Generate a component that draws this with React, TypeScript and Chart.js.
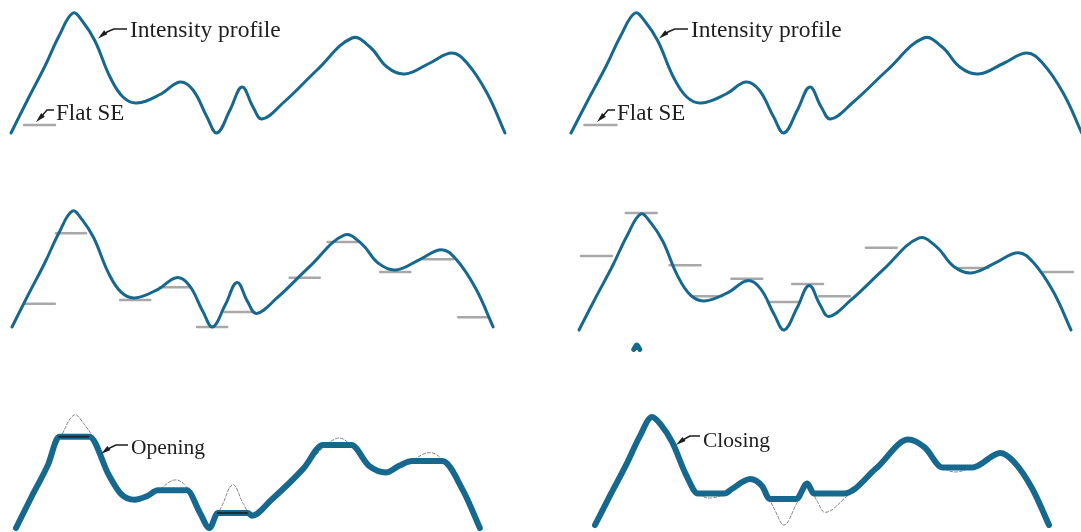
import React, { useEffect, useRef } from "react";
import { Chart, registerables } from "chart.js";
Chart.register(...registerables);

// Intensity profile (position u, intensity v)
const profileU = [0, 17, 34, 48, 62, 72, 84, 99, 112, 126, 150, 169, 182, 196, 206, 219, 231, 242, 251, 272, 306, 341, 359, 376, 394, 419, 441, 456, 476, 494];
const profileV = [0, 34, 67, 97, 120, 111, 92, 56, 36, 30, 39, 51, 43, 16, 0, 23, 46, 26, 14, 30, 63, 95, 86, 66, 59, 70, 80, 70, 40, 0];

// Opening result
const openingU = [0, 17, 34, 46, 78, 99, 112, 126, 140, 151, 182, 196, 206, 215, 247, 251, 272, 306, 327, 357, 376, 394, 408, 422, 454, 476, 494];
const openingV = [0, 34, 67, 97, 97, 56, 36, 30, 34, 40, 40, 16, 0, 16, 16, 13, 30, 63, 88, 88, 66, 59, 66, 71, 71, 40, 0];

// Closing result
const closingU = [0, 17, 34, 48, 62, 72, 84, 99, 112, 141, 149, 169, 182, 190, 219, 231, 238, 271, 306, 341, 359, 378, 411, 441, 456, 476, 494];
const closingV = [0, 34, 67, 97, 120, 111, 92, 56, 35, 35, 40, 51, 43, 29, 29, 46, 35, 35, 63, 95, 86, 64, 64, 80, 70, 40, 0];

// Structuring element positions
const SE_LEN = 31;
const flatSEStart = [13];
const flatSEV = [8];
const openSEStart = [13, 45, 111, 152, 190, 218, 285, 324, 378, 422, 458];
const openSEV = [24, 97, 28, 41, 0, 15.5, 51, 88, 57, 70, 10];
const closeSEStart = [2, 47, 91, 113, 153, 190, 214, 241, 288, 380, 465];
const closeSEV = [76.5, 121, 67, 35, 53, 29, 47.6, 35, 85, 64, 60];
const darkSEStart = [46, 215];
const darkSEV = [97, 16];
const fragmentU = [55, 58, 61];
const fragmentV = [-20, -15.5, -20];

const W = 1081;
const H = 532;
const BLUE = "#17688e";
const GRAY = "#a8a8a8";
const DASH = "#808080";

const panels = [
  { id: "1", x0: 11, sx: 1.0, yb: 133, sy: 1.0 },
  { id: "2", x0: 571, sx: 1.034, yb: 133, sy: 1.0 },
  { id: "3", x0: 12, sx: 0.974, yb: 327, sy: 0.967 },
  { id: "4", x0: 579, sx: 0.996, yb: 330, sy: 0.967 },
  { id: "5", x0: 16, sx: 0.939, yb: 528, sy: 0.942 },
  { id: "6", x0: 595, sx: 0.919, yb: 525, sy: 0.9 },
];

const pts = (us: number[], vs: number[]) => us.map((u, i) => ({ x: u, y: vs[i] }));
const segs = (starts: number[], vs: number[], len: number) =>
  starts.flatMap((s, i) => [
    { x: s, y: vs[i] },
    { x: s + len, y: vs[i] },
    { x: s + len, y: null as any },
  ]);

function ds(panel: string, data: any[], color: string, width: number, order: number, extra: any = {}) {
  return {
    data,
    xAxisID: "x" + panel,
    yAxisID: "y" + panel,
    showLine: true,
    pointRadius: 0,
    pointHoverRadius: 0,
    borderColor: color,
    backgroundColor: color,
    borderWidth: width,
    fill: false,
    order,
    spanGaps: false,
    borderCapStyle: "round",
    borderJoinStyle: "round",
    ...extra,
  };
}

type Ann = { text: string; tx: number; ty: number; size: number; path: [number, number][]; tip: [number, number] };
const annotations: Ann[] = [
  { text: "Intensity profile", tx: 130, ty: 37, size: 23.5, path: [[127, 29], [114, 29], [106, 32]], tip: [98, 38.5] },
  { text: "Intensity profile", tx: 691, ty: 37, size: 23.5, path: [[688, 29], [675, 29], [667, 32]], tip: [659, 38.5] },
  { text: "Flat SE", tx: 56, ty: 120, size: 23, path: [[54, 110], [47, 110], [43, 115]], tip: [36, 122] },
  { text: "Flat SE", tx: 617, ty: 120, size: 23, path: [[615, 110], [608, 110], [604, 115]], tip: [597, 122] },
  { text: "Opening", tx: 131, ty: 454, size: 21.5, path: [[128, 445], [116, 445], [109, 448]], tip: [101, 454] },
  { text: "Closing", tx: 703, ty: 447, size: 21.5, path: [[700, 436], [690, 436], [684, 439]], tip: [676, 445] },
];

const annotationPlugin = {
  id: "annots",
  afterDraw(chart: any) {
    const ctx = chart.ctx as CanvasRenderingContext2D;
    ctx.save();
    for (const a of annotations) {
      ctx.fillStyle = "#1e1e1e";
      ctx.font = `${a.size}px "Liberation Serif", "Times New Roman", serif`;
      ctx.textBaseline = "alphabetic";
      ctx.fillText(a.text, a.tx, a.ty);
      // arrow shaft
      ctx.strokeStyle = "#1e1e1e";
      ctx.lineWidth = 1.4;
      ctx.beginPath();
      ctx.moveTo(a.path[0][0], a.path[0][1]);
      ctx.lineTo(a.path[1][0], a.path[1][1]);
      ctx.quadraticCurveTo(a.path[2][0], a.path[2][1], (a.path[2][0] + a.tip[0]) / 2, (a.path[2][1] + a.tip[1]) / 2);
      ctx.stroke();
      // arrow head
      const dx = a.tip[0] - a.path[2][0];
      const dy = a.tip[1] - a.path[2][1];
      const len = Math.hypot(dx, dy);
      const ux = dx / len, uy = dy / len;
      const hl = 10, hw = 2.6;
      const bx = a.tip[0] - ux * hl, by = a.tip[1] - uy * hl;
      ctx.beginPath();
      ctx.moveTo(a.tip[0], a.tip[1]);
      ctx.lineTo(bx - uy * hw, by + ux * hw);
      ctx.lineTo(bx + uy * hw, by - ux * hw);
      ctx.closePath();
      ctx.fill();
    }
    ctx.restore();
  },
};

export default function App() {
  const ref = useRef<HTMLCanvasElement>(null);
  useEffect(() => {
    if (!ref.current) return;
    const scales: any = {};
    for (const p of panels) {
      scales["x" + p.id] = { type: "linear", display: false, bounds: "data", min: -p.x0 / p.sx, max: (W - p.x0) / p.sx };
      scales["y" + p.id] = { type: "linear", display: false, bounds: "data", min: (p.yb - H) / p.sy, max: p.yb / p.sy };
    }
    const mono = { cubicInterpolationMode: "monotone" };
    const smooth = { tension: 0.4 };
    const datasets: any[] = [
      // top row
      ds("1", pts(profileU, profileV), BLUE, 3, 1, smooth),
      ds("1", segs(flatSEStart, flatSEV, SE_LEN), GRAY, 2.5, 2),
      ds("2", pts(profileU, profileV), BLUE, 3, 1, smooth),
      ds("2", segs(flatSEStart, flatSEV, SE_LEN), GRAY, 2.5, 2),
      // middle row
      ds("3", pts(profileU, profileV), BLUE, 3, 1, smooth),
      ds("3", segs(openSEStart, openSEV, SE_LEN), GRAY, 2.5, 2),
      ds("4", pts(profileU, profileV), BLUE, 3, 1, smooth),
      ds("4", segs(closeSEStart, closeSEV, SE_LEN), GRAY, 2.5, 2),
      ds("4", pts(fragmentU, fragmentV), BLUE, 5, 1, mono),
      // bottom row
      ds("5", segs(darkSEStart, darkSEV, SE_LEN), "#1b2b38", 2, 0),
      ds("5", pts(openingU, openingV), BLUE, 6, 1, mono),
      ds("5", pts(profileU, profileV), DASH, 1, 3, { ...smooth, borderDash: [3, 2] }),
      ds("6", pts(closingU, closingV), BLUE, 6, 1, mono),
      ds("6", pts(profileU, profileV), DASH, 1, 3, { ...smooth, borderDash: [3, 2] }),
    ];
    const chart = new Chart(ref.current, {
      type: "scatter",
      data: { datasets },
      options: {
        animation: false,
        responsive: false,
        events: [],
        layout: { autoPadding: false, padding: 0 },
        plugins: { legend: { display: false }, tooltip: { enabled: false } },
        scales,
      } as any,
      plugins: [annotationPlugin],
    });
    return () => chart.destroy();
  }, []);
  return (
    <div style={{ position: "fixed", left: 0, top: 0, width: W, height: H, background: "#fff" }}>
      <canvas ref={ref} width={W} height={H} style={{ width: W, height: H, display: "block" }} />
    </div>
  );
}
